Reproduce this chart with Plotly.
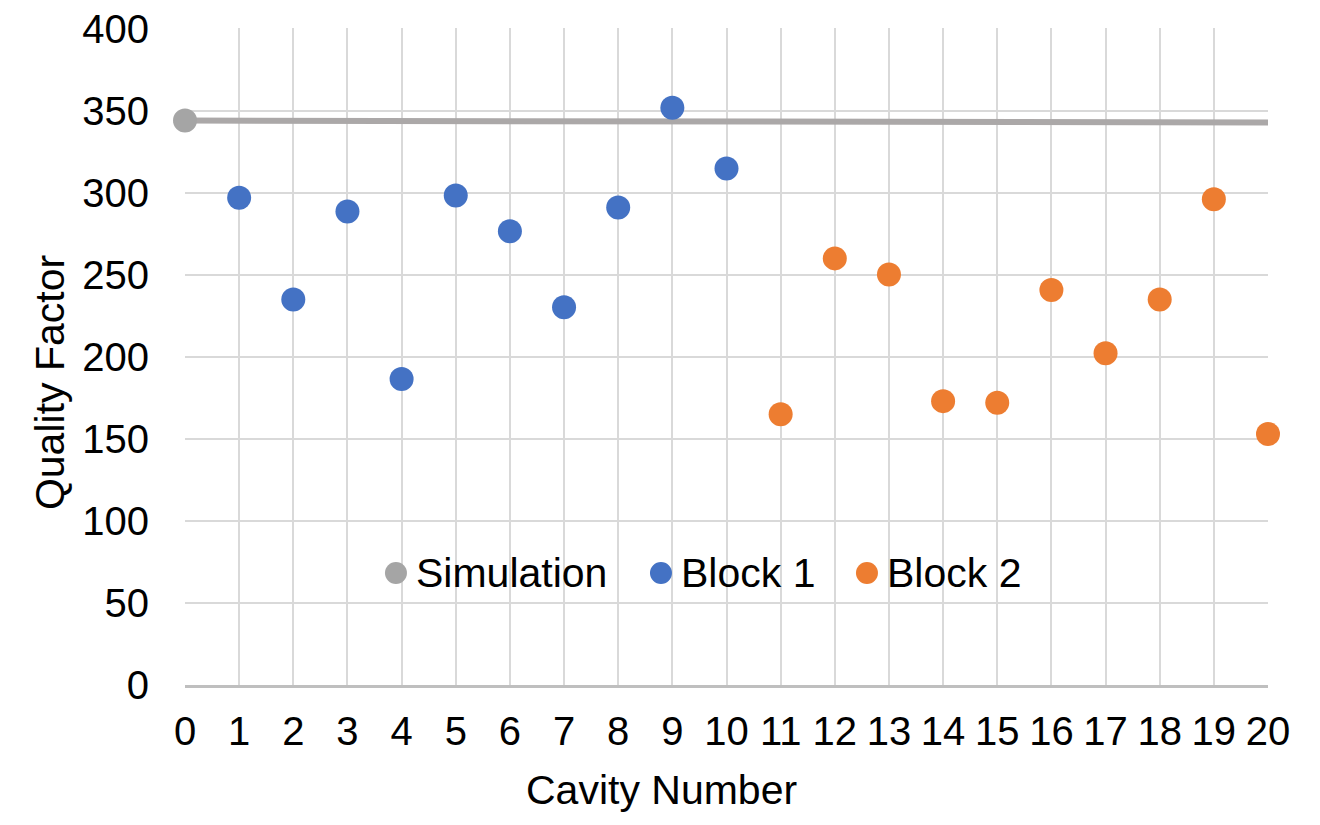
import plotly.graph_objects as go

sim_x = [0, 20]
sim_y = [344, 342.8]
block1_x = [1, 2, 3, 4, 5, 6, 7, 8, 9, 10]
block1_y = [297, 235, 288.6, 186.5, 298.3, 276.5, 230.2, 291, 351.8, 314.8]
block2_x = [11, 12, 13, 14, 15, 16, 17, 18, 19, 20]
block2_y = [165, 260, 250.2, 173, 172, 240.7, 202.2, 235, 296, 153]
x_ticks = list(range(0, 21))
y_ticks = [0, 50, 100, 150, 200, 250, 300, 350, 400]
legend_names = ["Simulation", "Block 1", "Block 2"]
legend_colors = ["#A5A5A5", "#4472C4", "#ED7D31"]

FONT = "Liberation Sans, Arial, sans-serif"
FS_TICK = 40
FS = 41

fig = go.Figure()
fig.add_trace(go.Scatter(x=sim_x, y=sim_y, mode="lines",
                         line=dict(color="#ABA8A8", width=6),
                         showlegend=False, hoverinfo="skip"))
fig.add_trace(go.Scatter(x=sim_x[:1], y=sim_y[:1], mode="markers", name=legend_names[0],
                         marker=dict(color=legend_colors[0], size=24), showlegend=False))
fig.add_trace(go.Scatter(x=block1_x, y=block1_y, mode="markers", name=legend_names[1],
                         marker=dict(color=legend_colors[1], size=24), showlegend=False))
fig.add_trace(go.Scatter(x=block2_x, y=block2_y, mode="markers", name=legend_names[2],
                         marker=dict(color=legend_colors[2], size=24), showlegend=False))

# custom legend (larger symbols, as in the reference)
leg_sym_x = [0.1948, 0.4395, 0.6297]
leg_y = 0.1705
shapes = []
annotations = []
for name, col, sx in zip(legend_names, legend_colors, leg_sym_x):
    shapes.append(dict(type="circle", xref="paper", yref="paper",
                       xsizemode="pixel", ysizemode="pixel",
                       xanchor=sx, yanchor=leg_y, x0=-11, x1=11, y0=-11, y1=11,
                       fillcolor=col, line=dict(width=0)))
    annotations.append(dict(text=name, xref="paper", yref="paper", x=sx + 0.017, y=leg_y,
                            xanchor="left", yanchor="middle", showarrow=False,
                            font=dict(size=FS)))
annotations.append(dict(text="Quality Factor", xref="paper", yref="paper",
                        x=-0.1247, y=0.461, xanchor="center", yanchor="middle",
                        textangle=-90, showarrow=False, font=dict(size=FS)))
annotations.append(dict(text="Cavity Number", xref="paper", yref="paper",
                        x=0.4404, y=-0.1598, xanchor="center", yanchor="middle",
                        showarrow=False, font=dict(size=FS)))

fig.update_layout(
    width=1320, height=825,
    margin=dict(l=177, r=60, t=20, b=148),
    plot_bgcolor="white", paper_bgcolor="white",
    font=dict(family=FONT, size=FS_TICK, color="black"),
    showlegend=False,
    shapes=shapes, annotations=annotations,
    xaxis=dict(range=[0, 20], tickmode="array", tickvals=x_ticks, automargin=False,
               showgrid=True, gridcolor="#D9D9D9", gridwidth=2,
               showline=True, linecolor="#BFBFBF", linewidth=3,
               zeroline=False, ticks="outside", ticklen=9, tickcolor="rgba(0,0,0,0)",
               tickfont=dict(size=FS_TICK), ticklabeloverflow="allow"),
    yaxis=dict(range=[0, 400.4], tickmode="array", tickvals=y_ticks, automargin=False,
               showgrid=True, gridcolor="#D9D9D9", gridwidth=2,
               showline=False, zeroline=False, ticks="outside", ticklen=27,
               tickcolor="rgba(0,0,0,0)", tickfont=dict(size=FS_TICK),
               ticklabeloverflow="allow"),
)
fig.update_traces(cliponaxis=False)
fig.write_html("out.html")
